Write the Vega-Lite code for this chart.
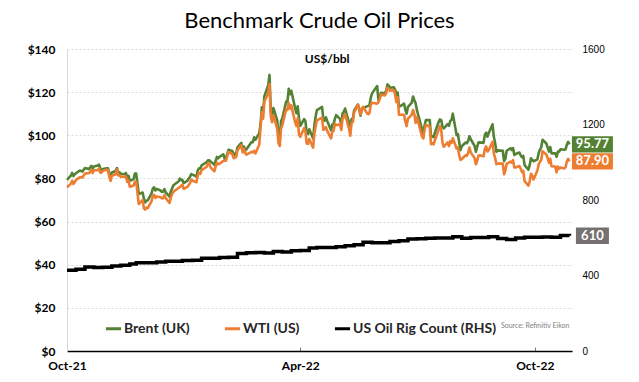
{
  "$schema": "https://vega.github.io/schema/vega-lite/v6.json",
  "width": 505,
  "height": 302,
  "autosize": {"type": "none"},
  "padding": {"left": 67, "top": 49, "right": 67, "bottom": 31},
  "background": "white",
  "title": {
    "text": "Benchmark Crude Oil Prices",
    "font": "Lato",
    "fontSize": 22,
    "fontWeight": "normal",
    "color": "#000000",
    "anchor": "middle",
    "offset": 10
  },
  "config": {
    "view": {"stroke": null},
    "font": "Lato"
  },
  "datasets": {
    "oil": [
      {"date": "2021-10-01", "Brent (UK)": 79.28, "WTI (US)": 75.88},
      {"date": "2021-10-04", "Brent (UK)": 81.26, "WTI (US)": 77.62},
      {"date": "2021-10-05", "Brent (UK)": 82.56, "WTI (US)": 78.93},
      {"date": "2021-10-06", "Brent (UK)": 81.08, "WTI (US)": 77.43},
      {"date": "2021-10-07", "Brent (UK)": 81.95, "WTI (US)": 78.30},
      {"date": "2021-10-08", "Brent (UK)": 82.39, "WTI (US)": 79.35},
      {"date": "2021-10-11", "Brent (UK)": 83.65, "WTI (US)": 80.52},
      {"date": "2021-10-12", "Brent (UK)": 83.42, "WTI (US)": 80.64},
      {"date": "2021-10-13", "Brent (UK)": 83.18, "WTI (US)": 80.44},
      {"date": "2021-10-14", "Brent (UK)": 84.00, "WTI (US)": 81.31},
      {"date": "2021-10-15", "Brent (UK)": 84.86, "WTI (US)": 82.28},
      {"date": "2021-10-18", "Brent (UK)": 84.33, "WTI (US)": 82.44},
      {"date": "2021-10-19", "Brent (UK)": 85.08, "WTI (US)": 82.96},
      {"date": "2021-10-20", "Brent (UK)": 85.82, "WTI (US)": 83.87},
      {"date": "2021-10-21", "Brent (UK)": 84.61, "WTI (US)": 82.50},
      {"date": "2021-10-22", "Brent (UK)": 85.53, "WTI (US)": 83.76},
      {"date": "2021-10-25", "Brent (UK)": 85.99, "WTI (US)": 83.76},
      {"date": "2021-10-26", "Brent (UK)": 86.40, "WTI (US)": 84.65},
      {"date": "2021-10-27", "Brent (UK)": 84.58, "WTI (US)": 82.66},
      {"date": "2021-10-28", "Brent (UK)": 83.66, "WTI (US)": 82.81},
      {"date": "2021-10-29", "Brent (UK)": 84.38, "WTI (US)": 83.57},
      {"date": "2021-11-01", "Brent (UK)": 84.71, "WTI (US)": 84.05},
      {"date": "2021-11-02", "Brent (UK)": 84.72, "WTI (US)": 83.91},
      {"date": "2021-11-03", "Brent (UK)": 81.99, "WTI (US)": 80.86},
      {"date": "2021-11-04", "Brent (UK)": 80.54, "WTI (US)": 78.81},
      {"date": "2021-11-05", "Brent (UK)": 82.74, "WTI (US)": 81.27},
      {"date": "2021-11-08", "Brent (UK)": 83.43, "WTI (US)": 81.93},
      {"date": "2021-11-09", "Brent (UK)": 84.78, "WTI (US)": 84.15},
      {"date": "2021-11-10", "Brent (UK)": 82.64, "WTI (US)": 81.34},
      {"date": "2021-11-11", "Brent (UK)": 82.87, "WTI (US)": 81.59},
      {"date": "2021-11-12", "Brent (UK)": 82.17, "WTI (US)": 80.79},
      {"date": "2021-11-15", "Brent (UK)": 82.05, "WTI (US)": 80.88},
      {"date": "2021-11-16", "Brent (UK)": 82.43, "WTI (US)": 80.76},
      {"date": "2021-11-17", "Brent (UK)": 80.28, "WTI (US)": 78.36},
      {"date": "2021-11-18", "Brent (UK)": 81.24, "WTI (US)": 79.01},
      {"date": "2021-11-19", "Brent (UK)": 78.89, "WTI (US)": 76.10},
      {"date": "2021-11-22", "Brent (UK)": 79.70, "WTI (US)": 76.75},
      {"date": "2021-11-23", "Brent (UK)": 82.31, "WTI (US)": 78.50},
      {"date": "2021-11-24", "Brent (UK)": 82.25, "WTI (US)": 78.39},
      {"date": "2021-11-26", "Brent (UK)": 72.72, "WTI (US)": 68.15},
      {"date": "2021-11-29", "Brent (UK)": 73.44, "WTI (US)": 69.95},
      {"date": "2021-11-30", "Brent (UK)": 70.57, "WTI (US)": 66.18},
      {"date": "2021-12-01", "Brent (UK)": 68.87, "WTI (US)": 65.57},
      {"date": "2021-12-02", "Brent (UK)": 69.67, "WTI (US)": 66.50},
      {"date": "2021-12-03", "Brent (UK)": 69.88, "WTI (US)": 66.26},
      {"date": "2021-12-06", "Brent (UK)": 73.08, "WTI (US)": 69.49},
      {"date": "2021-12-07", "Brent (UK)": 75.44, "WTI (US)": 72.05},
      {"date": "2021-12-08", "Brent (UK)": 75.82, "WTI (US)": 72.36},
      {"date": "2021-12-09", "Brent (UK)": 74.42, "WTI (US)": 70.94},
      {"date": "2021-12-10", "Brent (UK)": 75.15, "WTI (US)": 71.67},
      {"date": "2021-12-13", "Brent (UK)": 74.39, "WTI (US)": 71.29},
      {"date": "2021-12-14", "Brent (UK)": 73.70, "WTI (US)": 70.73},
      {"date": "2021-12-15", "Brent (UK)": 73.88, "WTI (US)": 70.87},
      {"date": "2021-12-16", "Brent (UK)": 75.02, "WTI (US)": 72.38},
      {"date": "2021-12-17", "Brent (UK)": 73.52, "WTI (US)": 70.86},
      {"date": "2021-12-20", "Brent (UK)": 71.52, "WTI (US)": 68.61},
      {"date": "2021-12-21", "Brent (UK)": 73.98, "WTI (US)": 71.12},
      {"date": "2021-12-22", "Brent (UK)": 75.29, "WTI (US)": 72.76},
      {"date": "2021-12-23", "Brent (UK)": 76.85, "WTI (US)": 73.79},
      {"date": "2021-12-27", "Brent (UK)": 78.60, "WTI (US)": 75.57},
      {"date": "2021-12-28", "Brent (UK)": 79.94, "WTI (US)": 75.98},
      {"date": "2021-12-29", "Brent (UK)": 79.23, "WTI (US)": 76.56},
      {"date": "2021-12-30", "Brent (UK)": 79.32, "WTI (US)": 76.99},
      {"date": "2021-12-31", "Brent (UK)": 77.78, "WTI (US)": 75.21},
      {"date": "2022-01-03", "Brent (UK)": 78.98, "WTI (US)": 76.08},
      {"date": "2022-01-04", "Brent (UK)": 80.00, "WTI (US)": 76.99},
      {"date": "2022-01-05", "Brent (UK)": 80.80, "WTI (US)": 77.85},
      {"date": "2022-01-06", "Brent (UK)": 81.99, "WTI (US)": 79.46},
      {"date": "2022-01-07", "Brent (UK)": 81.75, "WTI (US)": 78.90},
      {"date": "2022-01-10", "Brent (UK)": 80.87, "WTI (US)": 78.23},
      {"date": "2022-01-11", "Brent (UK)": 83.72, "WTI (US)": 81.22},
      {"date": "2022-01-12", "Brent (UK)": 84.67, "WTI (US)": 82.64},
      {"date": "2022-01-13", "Brent (UK)": 84.47, "WTI (US)": 82.12},
      {"date": "2022-01-14", "Brent (UK)": 86.06, "WTI (US)": 83.82},
      {"date": "2022-01-18", "Brent (UK)": 87.51, "WTI (US)": 85.43},
      {"date": "2022-01-19", "Brent (UK)": 88.44, "WTI (US)": 86.96},
      {"date": "2022-01-20", "Brent (UK)": 88.38, "WTI (US)": 86.90},
      {"date": "2022-01-21", "Brent (UK)": 87.89, "WTI (US)": 85.14},
      {"date": "2022-01-24", "Brent (UK)": 86.27, "WTI (US)": 83.31},
      {"date": "2022-01-25", "Brent (UK)": 88.20, "WTI (US)": 85.60},
      {"date": "2022-01-26", "Brent (UK)": 89.96, "WTI (US)": 87.35},
      {"date": "2022-01-27", "Brent (UK)": 89.34, "WTI (US)": 86.61},
      {"date": "2022-01-28", "Brent (UK)": 90.03, "WTI (US)": 86.82},
      {"date": "2022-01-31", "Brent (UK)": 91.21, "WTI (US)": 88.15},
      {"date": "2022-02-01", "Brent (UK)": 89.16, "WTI (US)": 88.20},
      {"date": "2022-02-02", "Brent (UK)": 89.47, "WTI (US)": 88.26},
      {"date": "2022-02-03", "Brent (UK)": 91.11, "WTI (US)": 90.27},
      {"date": "2022-02-04", "Brent (UK)": 93.27, "WTI (US)": 92.31},
      {"date": "2022-02-07", "Brent (UK)": 92.69, "WTI (US)": 91.32},
      {"date": "2022-02-08", "Brent (UK)": 90.78, "WTI (US)": 89.36},
      {"date": "2022-02-09", "Brent (UK)": 91.55, "WTI (US)": 89.66},
      {"date": "2022-02-10", "Brent (UK)": 91.41, "WTI (US)": 89.88},
      {"date": "2022-02-11", "Brent (UK)": 94.44, "WTI (US)": 93.10},
      {"date": "2022-02-14", "Brent (UK)": 96.48, "WTI (US)": 95.46},
      {"date": "2022-02-15", "Brent (UK)": 93.28, "WTI (US)": 92.07},
      {"date": "2022-02-16", "Brent (UK)": 94.81, "WTI (US)": 93.66},
      {"date": "2022-02-17", "Brent (UK)": 92.97, "WTI (US)": 91.76},
      {"date": "2022-02-18", "Brent (UK)": 93.54, "WTI (US)": 91.07},
      {"date": "2022-02-22", "Brent (UK)": 96.84, "WTI (US)": 92.35},
      {"date": "2022-02-23", "Brent (UK)": 96.84, "WTI (US)": 92.10},
      {"date": "2022-02-24", "Brent (UK)": 99.08, "WTI (US)": 92.81},
      {"date": "2022-02-25", "Brent (UK)": 97.93, "WTI (US)": 91.59},
      {"date": "2022-02-28", "Brent (UK)": 100.99, "WTI (US)": 95.72},
      {"date": "2022-03-01", "Brent (UK)": 104.97, "WTI (US)": 103.41},
      {"date": "2022-03-02", "Brent (UK)": 112.93, "WTI (US)": 110.60},
      {"date": "2022-03-03", "Brent (UK)": 110.46, "WTI (US)": 107.67},
      {"date": "2022-03-04", "Brent (UK)": 118.11, "WTI (US)": 115.68},
      {"date": "2022-03-07", "Brent (UK)": 123.21, "WTI (US)": 119.40},
      {"date": "2022-03-08", "Brent (UK)": 127.98, "WTI (US)": 123.70},
      {"date": "2022-03-09", "Brent (UK)": 111.14, "WTI (US)": 108.70},
      {"date": "2022-03-10", "Brent (UK)": 109.33, "WTI (US)": 106.02},
      {"date": "2022-03-11", "Brent (UK)": 112.67, "WTI (US)": 109.33},
      {"date": "2022-03-14", "Brent (UK)": 106.90, "WTI (US)": 103.01},
      {"date": "2022-03-15", "Brent (UK)": 99.91, "WTI (US)": 96.44},
      {"date": "2022-03-16", "Brent (UK)": 98.02, "WTI (US)": 95.04},
      {"date": "2022-03-17", "Brent (UK)": 106.64, "WTI (US)": 102.98},
      {"date": "2022-03-18", "Brent (UK)": 107.93, "WTI (US)": 104.70},
      {"date": "2022-03-21", "Brent (UK)": 115.62, "WTI (US)": 112.12},
      {"date": "2022-03-22", "Brent (UK)": 115.48, "WTI (US)": 111.76},
      {"date": "2022-03-23", "Brent (UK)": 121.60, "WTI (US)": 114.93},
      {"date": "2022-03-24", "Brent (UK)": 119.03, "WTI (US)": 112.34},
      {"date": "2022-03-25", "Brent (UK)": 120.65, "WTI (US)": 113.90},
      {"date": "2022-03-28", "Brent (UK)": 112.48, "WTI (US)": 105.96},
      {"date": "2022-03-29", "Brent (UK)": 110.23, "WTI (US)": 104.24},
      {"date": "2022-03-30", "Brent (UK)": 113.45, "WTI (US)": 107.82},
      {"date": "2022-03-31", "Brent (UK)": 107.91, "WTI (US)": 100.28},
      {"date": "2022-04-01", "Brent (UK)": 104.39, "WTI (US)": 99.27},
      {"date": "2022-04-04", "Brent (UK)": 107.53, "WTI (US)": 103.28},
      {"date": "2022-04-05", "Brent (UK)": 106.64, "WTI (US)": 101.96},
      {"date": "2022-04-06", "Brent (UK)": 101.07, "WTI (US)": 96.23},
      {"date": "2022-04-07", "Brent (UK)": 100.58, "WTI (US)": 96.03},
      {"date": "2022-04-08", "Brent (UK)": 102.78, "WTI (US)": 98.26},
      {"date": "2022-04-11", "Brent (UK)": 98.48, "WTI (US)": 94.29},
      {"date": "2022-04-12", "Brent (UK)": 104.64, "WTI (US)": 100.60},
      {"date": "2022-04-13", "Brent (UK)": 108.78, "WTI (US)": 104.25},
      {"date": "2022-04-14", "Brent (UK)": 111.70, "WTI (US)": 106.95},
      {"date": "2022-04-18", "Brent (UK)": 113.16, "WTI (US)": 108.21},
      {"date": "2022-04-19", "Brent (UK)": 107.25, "WTI (US)": 102.56},
      {"date": "2022-04-20", "Brent (UK)": 106.80, "WTI (US)": 102.75},
      {"date": "2022-04-21", "Brent (UK)": 108.33, "WTI (US)": 103.79},
      {"date": "2022-04-22", "Brent (UK)": 106.65, "WTI (US)": 102.07},
      {"date": "2022-04-25", "Brent (UK)": 102.32, "WTI (US)": 98.54},
      {"date": "2022-04-26", "Brent (UK)": 104.99, "WTI (US)": 101.70},
      {"date": "2022-04-27", "Brent (UK)": 105.32, "WTI (US)": 102.02},
      {"date": "2022-04-28", "Brent (UK)": 107.59, "WTI (US)": 105.36},
      {"date": "2022-04-29", "Brent (UK)": 109.34, "WTI (US)": 104.69},
      {"date": "2022-05-02", "Brent (UK)": 107.58, "WTI (US)": 105.17},
      {"date": "2022-05-03", "Brent (UK)": 104.97, "WTI (US)": 102.41},
      {"date": "2022-05-04", "Brent (UK)": 110.14, "WTI (US)": 107.81},
      {"date": "2022-05-05", "Brent (UK)": 110.90, "WTI (US)": 108.26},
      {"date": "2022-05-06", "Brent (UK)": 112.39, "WTI (US)": 109.77},
      {"date": "2022-05-09", "Brent (UK)": 105.94, "WTI (US)": 103.09},
      {"date": "2022-05-10", "Brent (UK)": 102.46, "WTI (US)": 99.76},
      {"date": "2022-05-11", "Brent (UK)": 107.51, "WTI (US)": 105.71},
      {"date": "2022-05-12", "Brent (UK)": 107.45, "WTI (US)": 106.13},
      {"date": "2022-05-13", "Brent (UK)": 111.55, "WTI (US)": 110.49},
      {"date": "2022-05-16", "Brent (UK)": 114.24, "WTI (US)": 114.20},
      {"date": "2022-05-17", "Brent (UK)": 111.93, "WTI (US)": 112.40},
      {"date": "2022-05-18", "Brent (UK)": 109.11, "WTI (US)": 109.59},
      {"date": "2022-05-19", "Brent (UK)": 112.04, "WTI (US)": 112.21},
      {"date": "2022-05-20", "Brent (UK)": 112.55, "WTI (US)": 113.23},
      {"date": "2022-05-23", "Brent (UK)": 113.42, "WTI (US)": 110.29},
      {"date": "2022-05-24", "Brent (UK)": 113.56, "WTI (US)": 109.77},
      {"date": "2022-05-25", "Brent (UK)": 114.03, "WTI (US)": 110.33},
      {"date": "2022-05-26", "Brent (UK)": 117.40, "WTI (US)": 114.09},
      {"date": "2022-05-27", "Brent (UK)": 119.43, "WTI (US)": 115.07},
      {"date": "2022-05-31", "Brent (UK)": 122.84, "WTI (US)": 114.67},
      {"date": "2022-06-01", "Brent (UK)": 116.29, "WTI (US)": 115.26},
      {"date": "2022-06-02", "Brent (UK)": 117.61, "WTI (US)": 116.87},
      {"date": "2022-06-03", "Brent (UK)": 119.72, "WTI (US)": 118.87},
      {"date": "2022-06-06", "Brent (UK)": 119.51, "WTI (US)": 118.50},
      {"date": "2022-06-07", "Brent (UK)": 120.57, "WTI (US)": 119.41},
      {"date": "2022-06-08", "Brent (UK)": 123.58, "WTI (US)": 122.11},
      {"date": "2022-06-09", "Brent (UK)": 123.07, "WTI (US)": 121.51},
      {"date": "2022-06-10", "Brent (UK)": 122.01, "WTI (US)": 120.67},
      {"date": "2022-06-13", "Brent (UK)": 122.27, "WTI (US)": 120.93},
      {"date": "2022-06-14", "Brent (UK)": 121.17, "WTI (US)": 118.93},
      {"date": "2022-06-15", "Brent (UK)": 118.51, "WTI (US)": 115.31},
      {"date": "2022-06-16", "Brent (UK)": 119.81, "WTI (US)": 117.59},
      {"date": "2022-06-17", "Brent (UK)": 113.12, "WTI (US)": 109.56},
      {"date": "2022-06-21", "Brent (UK)": 114.65, "WTI (US)": 109.52},
      {"date": "2022-06-22", "Brent (UK)": 111.74, "WTI (US)": 106.19},
      {"date": "2022-06-23", "Brent (UK)": 110.05, "WTI (US)": 104.27},
      {"date": "2022-06-24", "Brent (UK)": 113.12, "WTI (US)": 107.62},
      {"date": "2022-06-27", "Brent (UK)": 115.09, "WTI (US)": 109.57},
      {"date": "2022-06-28", "Brent (UK)": 117.98, "WTI (US)": 111.76},
      {"date": "2022-06-29", "Brent (UK)": 116.26, "WTI (US)": 109.78},
      {"date": "2022-06-30", "Brent (UK)": 114.81, "WTI (US)": 105.76},
      {"date": "2022-07-01", "Brent (UK)": 111.63, "WTI (US)": 108.43},
      {"date": "2022-07-05", "Brent (UK)": 102.77, "WTI (US)": 99.50},
      {"date": "2022-07-06", "Brent (UK)": 100.69, "WTI (US)": 98.53},
      {"date": "2022-07-07", "Brent (UK)": 104.65, "WTI (US)": 102.73},
      {"date": "2022-07-08", "Brent (UK)": 107.02, "WTI (US)": 104.79},
      {"date": "2022-07-11", "Brent (UK)": 107.10, "WTI (US)": 104.09},
      {"date": "2022-07-12", "Brent (UK)": 99.49, "WTI (US)": 95.84},
      {"date": "2022-07-13", "Brent (UK)": 99.57, "WTI (US)": 96.30},
      {"date": "2022-07-14", "Brent (UK)": 99.10, "WTI (US)": 95.78},
      {"date": "2022-07-15", "Brent (UK)": 101.16, "WTI (US)": 97.59},
      {"date": "2022-07-18", "Brent (UK)": 106.27, "WTI (US)": 102.60},
      {"date": "2022-07-19", "Brent (UK)": 107.35, "WTI (US)": 104.22},
      {"date": "2022-07-20", "Brent (UK)": 106.92, "WTI (US)": 102.26},
      {"date": "2022-07-21", "Brent (UK)": 103.86, "WTI (US)": 96.35},
      {"date": "2022-07-22", "Brent (UK)": 103.20, "WTI (US)": 94.70},
      {"date": "2022-07-25", "Brent (UK)": 105.15, "WTI (US)": 96.70},
      {"date": "2022-07-26", "Brent (UK)": 104.40, "WTI (US)": 94.98},
      {"date": "2022-07-27", "Brent (UK)": 106.62, "WTI (US)": 97.26},
      {"date": "2022-07-28", "Brent (UK)": 107.14, "WTI (US)": 96.42},
      {"date": "2022-07-29", "Brent (UK)": 110.01, "WTI (US)": 98.62},
      {"date": "2022-08-01", "Brent (UK)": 100.03, "WTI (US)": 93.89},
      {"date": "2022-08-02", "Brent (UK)": 100.54, "WTI (US)": 94.42},
      {"date": "2022-08-03", "Brent (UK)": 96.78, "WTI (US)": 90.66},
      {"date": "2022-08-04", "Brent (UK)": 93.12, "WTI (US)": 88.54},
      {"date": "2022-08-05", "Brent (UK)": 94.92, "WTI (US)": 89.01},
      {"date": "2022-08-08", "Brent (UK)": 96.65, "WTI (US)": 90.76},
      {"date": "2022-08-09", "Brent (UK)": 96.31, "WTI (US)": 90.50},
      {"date": "2022-08-10", "Brent (UK)": 97.40, "WTI (US)": 91.93},
      {"date": "2022-08-11", "Brent (UK)": 99.60, "WTI (US)": 94.34},
      {"date": "2022-08-12", "Brent (UK)": 98.15, "WTI (US)": 92.09},
      {"date": "2022-08-15", "Brent (UK)": 95.10, "WTI (US)": 89.41},
      {"date": "2022-08-16", "Brent (UK)": 92.34, "WTI (US)": 86.53},
      {"date": "2022-08-17", "Brent (UK)": 94.65, "WTI (US)": 88.11},
      {"date": "2022-08-18", "Brent (UK)": 96.59, "WTI (US)": 90.50},
      {"date": "2022-08-19", "Brent (UK)": 96.72, "WTI (US)": 90.77},
      {"date": "2022-08-22", "Brent (UK)": 96.48, "WTI (US)": 90.23},
      {"date": "2022-08-23", "Brent (UK)": 100.22, "WTI (US)": 93.74},
      {"date": "2022-08-24", "Brent (UK)": 101.22, "WTI (US)": 94.89},
      {"date": "2022-08-25", "Brent (UK)": 99.34, "WTI (US)": 92.52},
      {"date": "2022-08-26", "Brent (UK)": 100.99, "WTI (US)": 93.06},
      {"date": "2022-08-29", "Brent (UK)": 105.09, "WTI (US)": 97.01},
      {"date": "2022-08-30", "Brent (UK)": 99.31, "WTI (US)": 91.64},
      {"date": "2022-08-31", "Brent (UK)": 96.49, "WTI (US)": 89.55},
      {"date": "2022-09-01", "Brent (UK)": 92.36, "WTI (US)": 86.61},
      {"date": "2022-09-02", "Brent (UK)": 93.02, "WTI (US)": 86.87},
      {"date": "2022-09-06", "Brent (UK)": 92.83, "WTI (US)": 86.88},
      {"date": "2022-09-07", "Brent (UK)": 88.00, "WTI (US)": 81.94},
      {"date": "2022-09-08", "Brent (UK)": 89.15, "WTI (US)": 83.54},
      {"date": "2022-09-09", "Brent (UK)": 92.84, "WTI (US)": 86.79},
      {"date": "2022-09-12", "Brent (UK)": 94.00, "WTI (US)": 87.78},
      {"date": "2022-09-13", "Brent (UK)": 93.17, "WTI (US)": 87.31},
      {"date": "2022-09-14", "Brent (UK)": 94.10, "WTI (US)": 88.48},
      {"date": "2022-09-15", "Brent (UK)": 90.84, "WTI (US)": 85.10},
      {"date": "2022-09-16", "Brent (UK)": 91.35, "WTI (US)": 85.11},
      {"date": "2022-09-19", "Brent (UK)": 92.00, "WTI (US)": 85.73},
      {"date": "2022-09-20", "Brent (UK)": 90.62, "WTI (US)": 84.45},
      {"date": "2022-09-21", "Brent (UK)": 89.83, "WTI (US)": 82.94},
      {"date": "2022-09-22", "Brent (UK)": 90.46, "WTI (US)": 83.49},
      {"date": "2022-09-23", "Brent (UK)": 86.15, "WTI (US)": 78.74},
      {"date": "2022-09-26", "Brent (UK)": 84.06, "WTI (US)": 76.71},
      {"date": "2022-09-27", "Brent (UK)": 86.27, "WTI (US)": 78.50},
      {"date": "2022-09-28", "Brent (UK)": 89.32, "WTI (US)": 82.15},
      {"date": "2022-09-29", "Brent (UK)": 88.49, "WTI (US)": 81.23},
      {"date": "2022-09-30", "Brent (UK)": 87.96, "WTI (US)": 79.49},
      {"date": "2022-10-03", "Brent (UK)": 88.86, "WTI (US)": 83.63},
      {"date": "2022-10-04", "Brent (UK)": 91.80, "WTI (US)": 86.52},
      {"date": "2022-10-05", "Brent (UK)": 93.37, "WTI (US)": 87.76},
      {"date": "2022-10-06", "Brent (UK)": 94.42, "WTI (US)": 88.45},
      {"date": "2022-10-07", "Brent (UK)": 97.92, "WTI (US)": 92.64},
      {"date": "2022-10-10", "Brent (UK)": 96.19, "WTI (US)": 91.13},
      {"date": "2022-10-11", "Brent (UK)": 94.29, "WTI (US)": 89.35},
      {"date": "2022-10-12", "Brent (UK)": 92.45, "WTI (US)": 87.27},
      {"date": "2022-10-13", "Brent (UK)": 94.57, "WTI (US)": 89.11},
      {"date": "2022-10-14", "Brent (UK)": 91.63, "WTI (US)": 85.61},
      {"date": "2022-10-17", "Brent (UK)": 91.62, "WTI (US)": 85.46},
      {"date": "2022-10-18", "Brent (UK)": 90.03, "WTI (US)": 82.82},
      {"date": "2022-10-19", "Brent (UK)": 92.41, "WTI (US)": 85.55},
      {"date": "2022-10-20", "Brent (UK)": 92.38, "WTI (US)": 84.51},
      {"date": "2022-10-21", "Brent (UK)": 93.50, "WTI (US)": 85.05},
      {"date": "2022-10-24", "Brent (UK)": 93.26, "WTI (US)": 84.58},
      {"date": "2022-10-25", "Brent (UK)": 93.52, "WTI (US)": 85.32},
      {"date": "2022-10-26", "Brent (UK)": 95.69, "WTI (US)": 87.91},
      {"date": "2022-10-27", "Brent (UK)": 96.96, "WTI (US)": 89.08},
      {"date": "2022-10-28", "Brent (UK)": 95.77, "WTI (US)": 87.90}
    ],
    "rigs": [
      {"date": "2021-10-01", "rigs": 428},
      {"date": "2021-10-08", "rigs": 433},
      {"date": "2021-10-15", "rigs": 445},
      {"date": "2021-10-22", "rigs": 443},
      {"date": "2021-10-29", "rigs": 444},
      {"date": "2021-11-05", "rigs": 450},
      {"date": "2021-11-12", "rigs": 454},
      {"date": "2021-11-19", "rigs": 461},
      {"date": "2021-11-24", "rigs": 467},
      {"date": "2021-12-03", "rigs": 467},
      {"date": "2021-12-10", "rigs": 471},
      {"date": "2021-12-17", "rigs": 475},
      {"date": "2021-12-23", "rigs": 475},
      {"date": "2021-12-30", "rigs": 480},
      {"date": "2022-01-07", "rigs": 481},
      {"date": "2022-01-14", "rigs": 492},
      {"date": "2022-01-21", "rigs": 491},
      {"date": "2022-01-28", "rigs": 495},
      {"date": "2022-02-04", "rigs": 497},
      {"date": "2022-02-11", "rigs": 516},
      {"date": "2022-02-18", "rigs": 520},
      {"date": "2022-02-25", "rigs": 522},
      {"date": "2022-03-04", "rigs": 519},
      {"date": "2022-03-11", "rigs": 527},
      {"date": "2022-03-18", "rigs": 524},
      {"date": "2022-03-25", "rigs": 531},
      {"date": "2022-04-01", "rigs": 533},
      {"date": "2022-04-08", "rigs": 546},
      {"date": "2022-04-14", "rigs": 548},
      {"date": "2022-04-22", "rigs": 549},
      {"date": "2022-04-29", "rigs": 552},
      {"date": "2022-05-06", "rigs": 557},
      {"date": "2022-05-13", "rigs": 563},
      {"date": "2022-05-20", "rigs": 576},
      {"date": "2022-05-27", "rigs": 574},
      {"date": "2022-06-03", "rigs": 574},
      {"date": "2022-06-10", "rigs": 580},
      {"date": "2022-06-17", "rigs": 584},
      {"date": "2022-06-24", "rigs": 594},
      {"date": "2022-07-01", "rigs": 595},
      {"date": "2022-07-08", "rigs": 597},
      {"date": "2022-07-15", "rigs": 599},
      {"date": "2022-07-22", "rigs": 599},
      {"date": "2022-07-29", "rigs": 605},
      {"date": "2022-08-05", "rigs": 598},
      {"date": "2022-08-12", "rigs": 601},
      {"date": "2022-08-19", "rigs": 601},
      {"date": "2022-08-26", "rigs": 605},
      {"date": "2022-09-02", "rigs": 596},
      {"date": "2022-09-09", "rigs": 591},
      {"date": "2022-09-16", "rigs": 599},
      {"date": "2022-09-23", "rigs": 602},
      {"date": "2022-09-30", "rigs": 602},
      {"date": "2022-10-07", "rigs": 604},
      {"date": "2022-10-14", "rigs": 602},
      {"date": "2022-10-21", "rigs": 612},
      {"date": "2022-10-28", "rigs": 610}
    ],
    "ends": [
      {"date": "2022-10-28", "series": "Brent (UK)", "price": 95.77},
      {"date": "2022-10-28", "series": "WTI (US)", "price": 87.90}
    ],
    "rigEnd": [
      {"date": "2022-10-28", "rigs": 610}
    ],
    "notes": [
      {"note": "US$/bbl"},
      {"note": "Source: Refinitiv Eikon"}
    ]
  },
  "layer": [
    {
      "layer": [
        {
          "data": {"name": "oil"},
          "transform": [{"fold": ["Brent (UK)", "WTI (US)"], "as": ["series", "price"]}],
          "mark": {"type": "line", "strokeWidth": 2.6, "strokeJoin": "round"},
          "encoding": {
            "x": {
              "field": "date", "type": "temporal",
              "scale": {"type": "utc", "domain": [{"year": 2021, "month": 10, "date": 1, "utc": true}, {"year": 2022, "month": 10, "date": 30, "utc": true}]},
              "axis": {
                "values": [{"year": 2021, "month": 10, "date": 1, "utc": true}, {"year": 2022, "month": 4, "date": 1, "utc": true}, {"year": 2022, "month": 10, "date": 1, "utc": true}],
                "format": "%b-%y",
                "title": null,
                "grid": false,
                "domainColor": "#000000",
                "domainWidth": 1.5,
                "tickColor": "#7f7f7f",
                "tickSize": -4,
                "labelPadding": 13,
                "labelAlign": "center",
                "labelFlush": false,
                "labelFont": "Lato",
                "labelFontSize": 12,
                "labelFontWeight": "bold",
                "labelColor": "#000000"
              }
            },
            "y": {
              "field": "price", "type": "quantitative",
              "scale": {"domain": [0, 140], "nice": false},
              "axis": {
                "values": [0, 20, 40, 60, 80, 100, 120, 140],
                "format": "$.0f",
                "title": null,
                "grid": true,
                "gridColor": "#d9d9d9",
                "gridDash": [2, 2],
                "domain": true,
                "domainColor": "#d9d9d9",
                "ticks": false,
                "labelPadding": 12,
                "labelFont": "Lato",
                "labelFontSize": 12,
                "labelFontWeight": "bold",
                "labelColor": "#000000"
              }
            },
            "color": {
              "field": "series", "type": "nominal",
              "scale": {"domain": ["Brent (UK)", "WTI (US)", "US Oil Rig Count (RHS)"], "range": ["#548235", "#ED7D31", "#000000"]},
              "legend": {
                "title": null,
                "orient": "none",
                "legendX": 37,
                "legendY": 270,
                "direction": "horizontal",
                "symbolType": "stroke",
                "symbolStrokeWidth": 3,
                "symbolSize": 230,
                "labelFont": "Lato",
                "labelFontSize": 14,
                "labelFontWeight": "bold",
                "labelColor": "#262626",
                "labelOffset": 1,
                "columnPadding": 28
              }
            }
          }
        },
        {
          "data": {"name": "ends"},
          "mark": {"type": "point", "shape": "M-1,-0.4H1V0.4H-1Z", "size": 1681, "filled": true, "opacity": 1, "strokeWidth": 0, "xOffset": 23, "clip": false},
          "encoding": {
            "x": {"field": "date", "type": "temporal"},
            "y": {"field": "price", "type": "quantitative"},
            "color": {"field": "series", "type": "nominal"}
          }
        },
        {
          "data": {"name": "ends"},
          "mark": {"type": "text", "xOffset": 23, "color": "white", "font": "Lato", "fontSize": 13, "fontWeight": "bold", "align": "center", "baseline": "middle"},
          "encoding": {
            "x": {"field": "date", "type": "temporal"},
            "y": {"field": "price", "type": "quantitative"},
            "text": {"field": "price", "type": "quantitative", "format": ".2f"}
          }
        },
        {
          "data": {"name": "notes"},
          "transform": [{"filter": "datum.note == 'US$/bbl'"}],
          "mark": {"type": "text", "font": "Lato", "fontSize": 12, "fontWeight": "bold", "color": "#000000", "align": "center", "baseline": "middle"},
          "encoding": {
            "x": {"datum": {"year": 2022, "month": 4, "date": 22, "utc": true}, "type": "temporal"},
            "y": {"datum": 135.5, "type": "quantitative"},
            "text": {"field": "note", "type": "nominal"}
          }
        },
        {
          "data": {"name": "notes"},
          "transform": [{"filter": "datum.note != 'US$/bbl'"}],
          "mark": {"type": "text", "font": "Lato", "fontSize": 7, "color": "#7f7f7f", "align": "right", "baseline": "middle"},
          "encoding": {
            "x": {"datum": {"year": 2022, "month": 10, "date": 28, "utc": true}, "type": "temporal"},
            "y": {"datum": 11.6, "type": "quantitative"},
            "text": {"field": "note", "type": "nominal"}
          }
        }
      ]
    },
    {
      "layer": [
        {
          "data": {"name": "rigs"},
          "mark": {"type": "line", "strokeWidth": 3.5, "interpolate": "step-after"},
          "encoding": {
            "x": {"field": "date", "type": "temporal"},
            "y": {
              "field": "rigs", "type": "quantitative",
              "scale": {"domain": [0, 1600], "nice": false},
              "axis": {
                "orient": "right",
                "values": [0, 400, 800, 1200, 1600],
                "format": "d",
                "title": null,
                "grid": false,
                "domain": false,
                "ticks": false,
                "labelPadding": 10,
                "labelFont": "Liberation Sans",
                "labelFontSize": 10,
                "labelFontWeight": "normal",
                "labelColor": "#000000"
              }
            },
            "color": {"datum": "US Oil Rig Count (RHS)"}
          }
        },
        {
          "data": {"name": "rigEnd"},
          "mark": {"type": "point", "shape": "M-1,-0.5H1V0.5H-1Z", "size": 1089, "filled": true, "opacity": 1, "strokeWidth": 0, "xOffset": 23, "color": "#767171", "clip": false},
          "encoding": {
            "x": {"field": "date", "type": "temporal"},
            "y": {"field": "rigs", "type": "quantitative"}
          }
        },
        {
          "data": {"name": "rigEnd"},
          "mark": {"type": "text", "xOffset": 23, "color": "white", "font": "Lato", "fontSize": 13, "fontWeight": "bold", "align": "center", "baseline": "middle"},
          "encoding": {
            "x": {"field": "date", "type": "temporal"},
            "y": {"field": "rigs", "type": "quantitative"},
            "text": {"field": "rigs", "type": "quantitative"}
          }
        }
      ]
    }
  ],
  "resolve": {"scale": {"y": "independent"}}
}
